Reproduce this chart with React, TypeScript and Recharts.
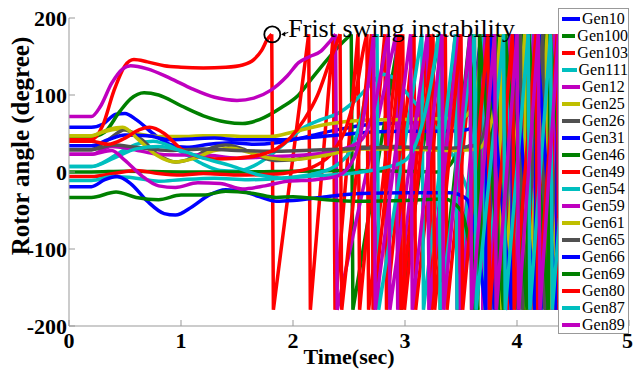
import { LineChart, Line, XAxis, YAxis, ReferenceDot } from "recharts";

type Pt = [number, number];

const timeTicks = [0, 1, 2, 3, 4, 5];
const angleTicks = [-200, -100, 0, 100, 200];

const genNames = [
  "Gen10", "Gen100", "Gen103", "Gen111", "Gen12", "Gen25", "Gen26", "Gen31", "Gen46", "Gen49",
  "Gen54", "Gen59", "Gen61", "Gen65", "Gen66", "Gen69", "Gen80", "Gen87", "Gen89",
];

const BLUE = "#0000ff";
const GREEN = "#008000";
const RED = "#ff0000";
const CYAN = "#00bfbf";
const MAGENTA = "#bf00bf";
const OLIVE = "#bfbf00";
const GRAY = "#505050";

const genColors = [
  BLUE, GREEN, RED, CYAN, MAGENTA, OLIVE, GRAY, BLUE, GREEN, RED,
  CYAN, MAGENTA, OLIVE, GRAY, BLUE, GREEN, RED, CYAN, MAGENTA,
];

// rotor angle before the machine slips a pole: [time (s), angle (deg)]
const gen10Path: Pt[] = [[0, 58], [0.2, 58], [0.3, 62], [0.42, 75], [0.5, 76], [0.6, 68], [0.75, 50], [0.9, 36], [1.05, 32], [1.25, 36], [1.45, 38], [1.65, 36], [1.85, 38], [2.1, 45], [2.4, 55], [2.7, 62], [3.0, 64], [3.3, 65], [3.5, 67], [3.58, 80], [3.63, 120], [3.68, 179]];
const gen100Path: Pt[] = [[0, 46], [0.2, 46], [0.32, 52], [0.45, 78], [0.55, 95], [0.67, 103], [0.8, 100], [1.0, 86], [1.2, 73], [1.4, 65], [1.55, 63], [1.7, 68], [1.9, 84], [2.05, 100], [2.16, 120], [2.3, 145], [2.42, 165], [2.52, 179]];
const gen103Path: Pt[] = [[0, 42], [0.2, 42], [0.3, 60], [0.4, 105], [0.5, 138], [0.58, 146], [0.7, 143], [0.85, 138], [1.0, 136], [1.2, 135], [1.4, 136], [1.55, 139], [1.65, 146], [1.72, 158], [1.77, 172], [1.81, 179]];
const gen111Path: Pt[] = [[0, 7], [0.2, 7], [0.3, 12], [0.45, 25], [0.6, 36], [0.75, 40], [0.9, 34], [1.05, 22], [1.2, 10], [1.35, 2], [1.5, 1], [1.65, 8], [1.8, 22], [1.95, 40], [2.1, 58], [2.25, 68], [2.4, 76], [2.55, 92], [2.7, 115], [2.8, 127], [2.9, 122], [3.0, 105], [3.15, 80], [3.3, 52], [3.45, 15], [3.6, -40], [3.75, -110], [3.86, -160], [3.92, -179]];
const gen12Path: Pt[] = [[0, 72], [0.2, 72], [0.28, 85], [0.38, 115], [0.48, 134], [0.55, 138], [0.7, 134], [0.9, 122], [1.1, 108], [1.3, 97], [1.5, 93], [1.65, 96], [1.8, 106], [1.95, 125], [2.05, 142], [2.15, 150], [2.25, 157], [2.32, 168], [2.38, 179]];
const gen25Path: Pt[] = [[0, 47], [0.2, 47], [0.3, 52], [0.45, 56], [0.6, 50], [0.8, 46], [1.0, 46], [1.2, 47], [1.4, 47], [1.6, 46], [1.8, 46], [2.0, 52], [2.3, 62], [2.6, 67], [2.9, 68], [3.2, 69], [3.5, 70], [3.62, 90], [3.67, 140], [3.7, 179]];
const gen26Path: Pt[] = [[0, 29], [0.2, 29], [0.35, 42], [0.5, 55], [0.65, 42], [0.8, 22], [0.95, 13], [1.1, 18], [1.25, 30], [1.4, 35], [1.55, 30], [1.7, 20], [1.85, 15], [2.0, 16], [2.3, 25], [2.6, 32], [2.9, 33], [3.2, 30], [3.5, 30], [3.65, 45], [3.72, 110], [3.75, 179]];
const gen31Path: Pt[] = [[0, 34], [0.2, 34], [0.35, 42], [0.5, 48], [0.7, 47], [0.9, 42], [1.1, 43], [1.3, 44], [1.5, 42], [1.7, 42], [1.9, 42], [2.1, 44], [2.4, 48], [2.7, 52], [3.0, 53], [3.3, 53], [3.55, 55], [3.7, 80], [3.75, 140], [3.78, 179]];
const gen46Path: Pt[] = [[0, 0], [0.2, 0], [0.5, 1], [1.0, 0], [1.5, 0], [2.0, 1], [2.5, 2], [3.0, 1], [3.3, 0], [3.45, 20], [3.53, 90], [3.6, 179]];
const gen49Path: Pt[] = [[0, -6], [0.2, -6], [0.4, -2], [0.6, 2], [0.8, -2], [1.0, -4], [1.2, -2], [1.5, -4], [1.8, -3], [2.0, 0], [2.2, 8], [2.35, 25], [2.48, 60], [2.57, 110], [2.63, 160], [2.66, 179]];
const gen54Path: Pt[] = [[0, -11], [0.2, -11], [0.4, -6], [0.6, -8], [0.8, -12], [1.0, -10], [1.3, -8], [1.6, -10], [1.9, -8], [2.2, -2], [2.4, 10], [2.55, 40], [2.65, 100], [2.72, 160], [2.75, 179]];
const gen59Path: Pt[] = [[0, 23], [0.2, 23], [0.38, 33], [0.55, 30], [0.75, 24], [0.95, 22], [1.2, 22], [1.5, 18], [1.8, 20], [2.1, 22], [2.4, 28], [2.6, 40], [2.72, 80], [2.8, 140], [2.85, 179]];
const gen61Path: Pt[] = [[0, 47], [0.2, 47], [0.35, 55], [0.48, 58], [0.62, 42], [0.78, 22], [0.95, 13], [1.1, 17], [1.3, 28], [1.45, 31], [1.6, 26], [1.8, 18], [2.0, 16], [2.3, 22], [2.6, 30], [3.0, 30], [3.4, 28], [3.65, 30], [3.78, 70], [3.85, 179]];
const gen65Path: Pt[] = [[0, 29], [0.2, 29], [0.4, 35], [0.6, 32], [0.9, 28], [1.2, 30], [1.5, 28], [1.8, 27], [2.1, 28], [2.5, 30], [3.0, 32], [3.4, 31], [3.65, 35], [3.75, 90], [3.8, 179]];
const gen66Path: Pt[] = [[0, -19], [0.2, -19], [0.32, -10], [0.43, -6], [0.55, -15], [0.7, -38], [0.85, -54], [0.95, -56], [1.1, -45], [1.25, -30], [1.4, -23], [1.55, -25], [1.7, -32], [1.85, -38], [2.0, -37], [2.3, -32], [2.6, -28], [3.0, -27], [3.4, -27], [3.55, -35], [3.65, -100], [3.72, -179]];
const gen69Path: Pt[] = [[0, -33], [0.2, -33], [0.42, -26], [0.6, -33], [0.8, -36], [1.0, -30], [1.2, -30], [1.4, -25], [1.65, -28], [1.85, -33], [2.0, -32], [2.3, -36], [2.6, -38], [3.0, -37], [3.35, -35], [3.5, -50], [3.6, -120], [3.65, -179]];
const gen80Path: Pt[] = [[0, 40], [0.2, 40], [0.35, 36], [0.5, 44], [0.63, 55], [0.72, 58], [0.85, 50], [1.0, 30], [1.15, 20], [1.3, 17], [1.5, 18], [1.7, 22], [1.85, 30], [1.98, 45], [2.1, 68], [2.22, 100], [2.32, 140], [2.42, 179]];
const gen87Path: Pt[] = [[0, 7], [0.2, 7], [0.4, 18], [0.6, 30], [0.8, 33], [1.0, 28], [1.2, 18], [1.45, 8], [1.7, -4], [1.9, -8], [2.2, -5], [2.5, -2], [2.8, 5], [3.0, 15], [3.15, 60], [3.25, 130], [3.3, 179]];
const gen89Path: Pt[] = [[0, 23], [0.2, 23], [0.38, 28], [0.5, 15], [0.65, -5], [0.8, -18], [0.95, -20], [1.15, -14], [1.35, -15], [1.55, -22], [1.75, -18], [1.95, -12], [2.2, -10], [2.4, -5], [2.55, 20], [2.65, 90], [2.72, 179]];

// times (s) at which each angle passes +/-180 deg and wraps round
const gen10Wraps = [3.68, 3.9, 4.1, 4.29];
const gen100Wraps = [2.52, 2.95, 3.3, 3.58, 3.82, 4.04, 4.24];
const gen103Wraps = [1.81, 2.14, 2.36, 2.58, 2.82, 3.08, 3.36, 3.62, 3.85, 4.06, 4.25];
const gen111Wraps = [3.92];
const gen12Wraps = [2.38, 2.92, 3.2, 3.45, 3.68, 3.9, 4.1, 4.29];
const gen25Wraps = [3.7, 3.93, 4.14, 4.33];
const gen26Wraps = [3.75, 3.98, 4.18, 4.37];
const gen31Wraps = [3.78, 4.0, 4.2];
const gen46Wraps = [3.6, 3.84, 4.06, 4.26];
const gen49Wraps = [2.66, 2.95, 3.22, 3.47, 3.7, 3.92, 4.13, 4.32];
const gen54Wraps = [2.75, 3.15, 3.45, 3.7, 3.93, 4.14, 4.34];
const gen59Wraps = [2.85, 3.2, 3.48, 3.72, 3.94, 4.15, 4.34];
const gen61Wraps = [3.85, 4.07, 4.27];
const gen65Wraps = [3.8, 4.03, 4.23];
const gen66Wraps = [3.72, 3.95, 4.16, 4.35];
const gen69Wraps = [3.65, 3.88, 4.09, 4.28];
const gen80Wraps = [2.42, 2.7, 2.98, 3.25, 3.5, 3.74, 3.96, 4.17, 4.36];
const gen87Wraps = [3.3, 3.62, 3.88, 4.1, 4.3];
const gen89Wraps = [2.72, 3.05, 3.33, 3.58, 3.8, 4.0, 4.19, 4.37];

// +1: angle keeps rising, -1: angle keeps falling
const wrapDirs = [1, 1, 1, -1, 1, 1, 1, 1, 1, 1, 1, 1, 1, 1, -1, -1, 1, 1, 1];

// last sample of each trace
const tailPoints: Pt[] = [
  [4.38, -40], [4.38, 45], [4.38, 30], [4.38, -165], [4.38, -40], [4.38, -100], [4.38, -170],
  [4.38, 150], [4.38, 10], [4.38, -95], [4.38, -130], [4.38, -130], [4.38, -10], [4.38, 60],
  [4.38, 155], [4.38, 20], [4.38, -150], [4.38, -60], [4.38, -170],
];

const wrapLimit = 179;

const paths = [gen10Path, gen100Path, gen103Path, gen111Path, gen12Path, gen25Path, gen26Path, gen31Path, gen46Path, gen49Path, gen54Path, gen59Path, gen61Path, gen65Path, gen66Path, gen69Path, gen80Path, gen87Path, gen89Path];
const wraps = [gen10Wraps, gen100Wraps, gen103Wraps, gen111Wraps, gen12Wraps, gen25Wraps, gen26Wraps, gen31Wraps, gen46Wraps, gen49Wraps, gen54Wraps, gen59Wraps, gen61Wraps, gen65Wraps, gen66Wraps, gen69Wraps, gen80Wraps, gen87Wraps, gen89Wraps];

interface Row {
  t: number;
  v: number;
}

const series = genNames.map((name, i) => {
  const smooth: Row[] = paths[i].map(([t, v]) => ({ t, v }));
  const slip: Row[] = [];
  const dir = wrapDirs[i];
  wraps[i].forEach((w) => {
    slip.push({ t: w, v: wrapLimit * dir });
    slip.push({ t: w + 0.015, v: -wrapLimit * dir });
  });
  slip.push({ t: tailPoints[i][0], v: tailPoints[i][1] });
  return { name, color: genColors[i], smooth, slip };
});

const serif = '"Liberation Serif", "Times New Roman", serif';

const tickStyle = { fontFamily: serif, fontSize: 22, fontWeight: "bold", fill: "#000" };

function YTitle(props: any) {
  const { x } = props.viewBox;
  const cx = x + 20;
  const cy = 146;
  return (
    <text
      x={cx}
      y={cy}
      transform={`rotate(-90 ${cx} ${cy})`}
      textAnchor="middle"
      dominantBaseline="central"
      style={{ fontFamily: serif, fontSize: 25, fontWeight: "bold", fill: "#000" }}
    >
      Rotor angle (degree)
    </text>
  );
}

function XTitle(props: any) {
  const { x, y, width } = props.viewBox;
  return (
    <text
      x={x + width / 2}
      y={y + 38}
      textAnchor="middle"
      style={{ fontFamily: serif, fontSize: 22, fontWeight: "bold", fill: "#000" }}
    >
      Time(sec)
    </text>
  );
}

function Annotation(props: any) {
  const { x, y, width, height } = props.viewBox;
  const cx = x + width / 2;
  const cy = y + height / 2;
  return (
    <g>
      <line x1={cx + 10} y1={cy} x2={cx + 16} y2={cy - 2} stroke="#000" strokeWidth={1} />
      <path d={`M${cx + 9},${cy} L${cx + 13},${cy - 3} L${cx + 13},${cy + 2} Z`} fill="#000" />
      <text
        x={cx + 16}
        y={cy + 3}
        style={{ fontFamily: serif, fontSize: 26, fill: "#000" }}
      >
        Frist swing instability
      </text>
    </g>
  );
}

export default function App() {
  return (
    <div style={{ position: "fixed", left: 0, top: 0, width: 633, height: 374, background: "#fff" }}>
      <LineChart width={633} height={374} margin={{ top: 18, right: 4, bottom: 0, left: 0 }}>
        <XAxis
          dataKey="t"
          type="number"
          domain={[0, 5]}
          ticks={timeTicks}
          allowDataOverflow
          height={48}
          tick={tickStyle}
          tickSize={-6}
          tickMargin={12}
          tickLine={{ stroke: "#999" }}
          axisLine={{ stroke: "#999" }}
          label={(p: any) => <XTitle {...p} />}
        />
        <XAxis
          xAxisId="top"
          orientation="top"
          dataKey="t"
          type="number"
          domain={[0, 5]}
          ticks={timeTicks}
          height={0}
          tick={false}
          tickSize={-6}
          tickLine={{ stroke: "#999" }}
          axisLine={{ stroke: "#bbb" }}
        />
        <YAxis
          type="number"
          domain={[-200, 200]}
          ticks={angleTicks}
          allowDataOverflow
          width={69}
          tick={tickStyle}
          tickSize={-6}
          tickMargin={8}
          tickLine={{ stroke: "#999" }}
          axisLine={{ stroke: "#999" }}
          label={(p: any) => <YTitle {...p} />}
        />
        {series.flatMap((s) => [
          <Line
            key={s.name + "-a"}
            data={s.smooth}
            dataKey="v"
            type="monotone"
            stroke={s.color}
            strokeWidth={3.5}
            dot={false}
            activeDot={false}
            isAnimationActive={false}
          />,
          <Line
            key={s.name + "-b"}
            data={s.slip}
            dataKey="v"
            type="linear"
            stroke={s.color}
            strokeWidth={3.5}
            dot={false}
            activeDot={false}
            isAnimationActive={false}
          />,
        ])}
        <ReferenceDot
          x={1.815}
          y={178.7}
          r={8}
          fill="none"
          stroke="#000"
          strokeWidth={1.8}
          ifOverflow="visible"
          label={(p: any) => <Annotation {...p} />}
        />
      </LineChart>
      <div
        style={{
          position: "absolute",
          left: 558,
          top: 8,
          width: 71,
          height: 326,
          background: "#fff",
          border: "1px solid #999",
          boxSizing: "border-box",
          padding: "1px 0 0 3px",
        }}
      >
        {series.map((s) => (
          <div key={s.name} style={{ display: "flex", alignItems: "center", height: 17 }}>
            <span style={{ display: "inline-block", width: 18, height: 4, background: s.color, marginRight: 2 }} />
            <span style={{ fontFamily: serif, fontSize: 16, lineHeight: "17px", color: "#000", whiteSpace: "nowrap" }}>{s.name}</span>
          </div>
        ))}
      </div>
    </div>
  );
}
